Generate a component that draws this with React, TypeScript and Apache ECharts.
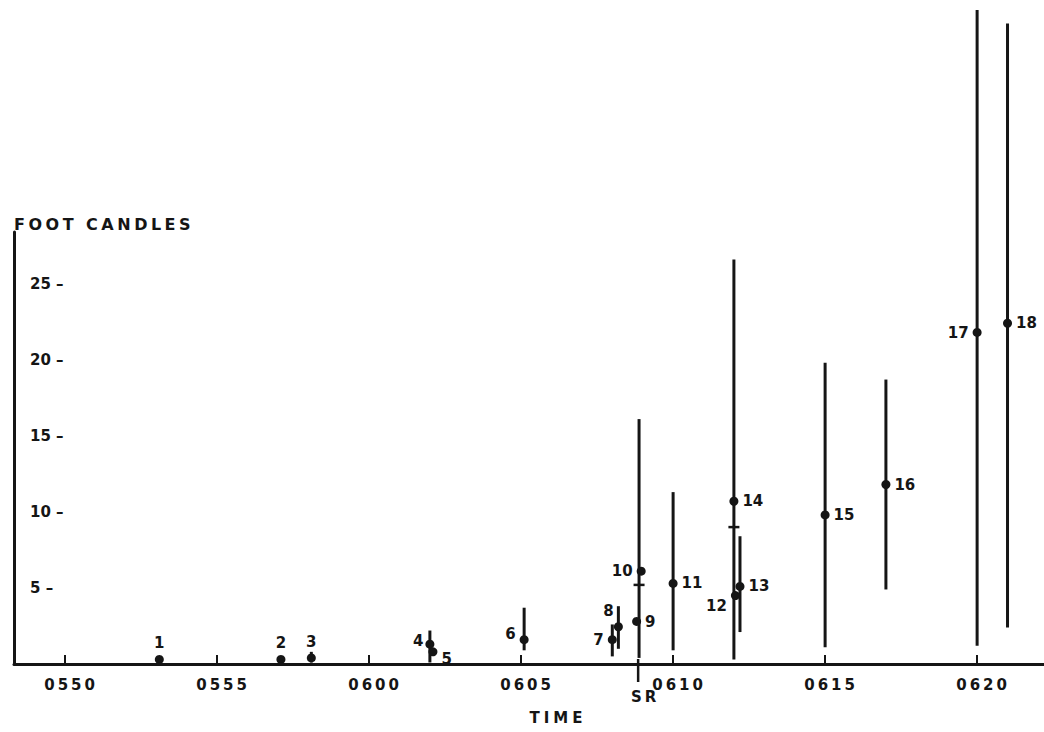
import React, { useEffect, useRef } from 'react';
import * as echarts from 'echarts';

// ---- data (times in minutes after midnight, values in foot candles) ----
const pointLabels = ['1', '2', '3', '4', '5', '6', '7', '8', '9', '10', '11', '12', '13', '14', '15', '16', '17', '18'];
const pointTimes = [353.1, 357.1, 358.1, 362.0, 362.1, 365.1, 368.0, 368.2, 368.8, 368.95, 370.0, 372.05, 372.2, 372.0, 375.0, 377.0, 380.0, 381.0];
const pointValues = [0.3, 0.3, 0.4, 1.3, 0.8, 1.6, 1.6, 2.45, 2.8, 6.1, 5.3, 4.5, 5.1, 10.7, 9.8, 11.8, 21.8, 22.4];
const rangeLows = [null, null, 0.1, 0.1, null, 0.9, 0.5, 1.0, null, 0.4, 0.9, null, 2.1, 0.3, 1.1, 4.9, 1.2, 2.4];
const rangeHighs = [null, null, 0.8, 2.2, null, 3.7, 2.6, 3.8, null, 16.1, 11.3, null, 8.4, 26.6, 19.8, 18.7, 43.0, 42.1];
const rangeTimes = [353.1, 357.1, 358.1, 362.0, 362.1, 365.1, 368.0, 368.2, 368.8, 368.88, 370.0, 372.0, 372.2, 372.0, 375.0, 377.0, 380.0, 381.0];
const meanTimes = [368.88, 372.0];
const meanValues = [5.2, 9.0];
const sunriseTime = 368.85;
const sunriseLabel = 'SR';
const timeTicks = [350, 355, 360, 365, 370, 375, 380];
const valueTicks = [5, 10, 15, 20, 25];

// ---- label placement (style only) ----
const labelSides = ['top', 'top', 'top', 'left', 'right', 'left', 'left', 'top', 'right', 'left', 'right', 'left', 'right', 'right', 'right', 'right', 'left', 'right'];
const labelShifts: number[][] = [[0, 0], [0, 0], [0, 0], [2, -3], [0, 7], [0, -6], [0, 0], [-10, 0], [0, 1], [0, 0], [0, 0], [0, 10], [0, 0], [0, 0], [0, 0], [0, 0], [0, 1], [0, 0]];

const INK = '#151515';
const FONT = '"DejaVu Sans", Verdana, sans-serif';

const fmtTime = (m: number) => {
  const h = Math.floor(m / 60);
  const mm = Math.round(m - h * 60);
  return String(h).padStart(2, '0') + String(mm).padStart(2, '0');
};

// letter spacing (px) of the typewriter-style captions
const spacingFor = (t: string) => {
  if (/^\d{4}$/.test(t)) return 3;
  if (t === 'FOOT CANDLES') return 3.5;
  if (t === 'TIME') return 4;
  if (t === sunriseLabel) return 3;
  return 0;
};

export default function App() {
  const ref = useRef<HTMLDivElement>(null);
  useEffect(() => {
    if (!ref.current) return;
    const el = ref.current;
    const chart = echarts.init(el, null, { renderer: 'svg' });
    const rangeData = rangeTimes
      .map((t, i) => [t, rangeLows[i], rangeHighs[i]])
      .filter((d) => d[1] != null && d[2] != null);
    const pointData = pointTimes.map((t, i) => ({
      value: [t, pointValues[i]],
      name: pointLabels[i],
      label: { position: labelSides[i], offset: labelShifts[i] },
    }));
    const option: any = {
      animation: false,
      backgroundColor: '#ffffff',
      grid: { left: 14, right: 0, top: 232, bottom: 68, containLabel: false },
      xAxis: {
        type: 'value',
        min: 348.32,
        max: 382.2,
        axisLine: { show: true, onZero: false, lineStyle: { color: INK, width: 3 } },
        axisTick: { show: true, inside: true, length: 9, customValues: timeTicks, lineStyle: { color: INK, width: 2 } },
        axisLabel: {
          customValues: timeTicks,
          formatter: (v: number) => fmtTime(v),
          margin: 13,
          color: INK,
          fontFamily: FONT,
          fontWeight: 'bold',
          fontSize: 15,
          padding: [0, 0, 0, 12],
        },
        splitLine: { show: false },
        name: 'TIME',
        nameLocation: 'middle',
        nameGap: 46,
        nameTextStyle: { color: INK, fontFamily: FONT, fontWeight: 'bold', fontSize: 15, padding: [0, 0, 0, 58] },
      },
      yAxis: {
        type: 'value',
        min: 0,
        max: 28.4,
        axisLine: { show: true, onZero: false, lineStyle: { color: INK, width: 3 } },
        axisTick: { show: false },
        axisLabel: {
          inside: true,
          customValues: valueTicks,
          formatter: (v: number) => `${v} –`,
          margin: 16,
          color: INK,
          fontFamily: FONT,
          fontWeight: 'bold',
          fontSize: 15,
        },
        splitLine: { show: false },
        name: 'FOOT CANDLES',
        nameLocation: 'end',
        nameGap: 0,
        nameTextStyle: { color: INK, fontFamily: FONT, fontWeight: 'bold', fontSize: 16, align: 'left', verticalAlign: 'bottom' },
      },
      series: [
        {
          type: 'custom',
          clip: false,
          data: rangeData,
          encode: { x: 0, y: [1, 2] },
          renderItem: (params: any, api: any) => {
            const p1 = api.coord([api.value(0), api.value(1)]);
            const p2 = api.coord([api.value(0), api.value(2)]);
            return {
              type: 'line',
              shape: { x1: p1[0], y1: p1[1], x2: p2[0], y2: p2[1] },
              style: { stroke: INK, lineWidth: 3 },
            };
          },
          z: 2,
        },
        {
          type: 'scatter',
          data: meanTimes.map((t, i) => [t, meanValues[i]]),
          symbol: 'rect',
          symbolSize: [11, 2.5],
          itemStyle: { color: INK, opacity: 1 },
          z: 3,
        },
        {
          type: 'scatter',
          data: pointData,
          symbol: 'circle',
          symbolSize: 9,
          itemStyle: { color: INK, opacity: 1 },
          label: {
            show: true,
            formatter: (p: any) => p.name,
            color: INK,
            fontFamily: FONT,
            fontWeight: 'bold',
            fontSize: 15,
            distance: 4,
          },
          z: 4,
        },
        {
          type: 'custom',
          clip: false,
          data: [[sunriseTime, 0]],
          renderItem: (params: any, api: any) => {
            const p = api.coord([api.value(0), api.value(1)]);
            return {
              type: 'group',
              children: [
                {
                  type: 'line',
                  shape: { x1: p[0], y1: p[1] - 5, x2: p[0], y2: p[1] + 18 },
                  style: { stroke: INK, lineWidth: 2.5 },
                },
                {
                  type: 'text',
                  style: {
                    text: sunriseLabel,
                    x: p[0] + 7,
                    y: p[1] + 33,
                    align: 'center',
                    verticalAlign: 'middle',
                    fill: INK,
                    fontFamily: FONT,
                    fontWeight: 'bold',
                    fontSize: 15,
                  },
                },
              ],
            };
          },
          z: 5,
        },
      ],
    };
    const applySpacing = () => {
      el.querySelectorAll('text').forEach((t) => {
        const s = spacingFor((t.textContent || '').trim());
        if (s) t.setAttribute('letter-spacing', String(s));
      });
    };
    chart.on('finished', applySpacing);
    chart.setOption(option);
    applySpacing();
    const timer = window.setTimeout(applySpacing, 50);
    return () => {
      window.clearTimeout(timer);
      chart.dispose();
    };
  }, []);
  return <div ref={ref} style={{ position: 'fixed', left: 0, top: 0, width: 1044, height: 732, background: '#fff' }} />;
}
